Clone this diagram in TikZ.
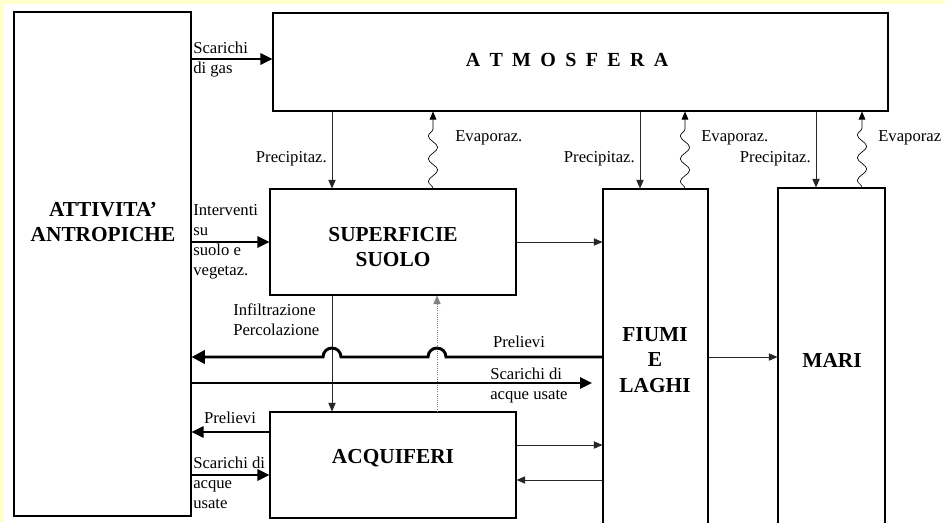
\documentclass[tikz,border=0pt]{standalone}
\usepackage{fontspec}
\setmainfont{Liberation Serif}
\usetikzlibrary{arrows.meta,fit,decorations.pathmorphing}
\definecolor{paleyellow}{RGB}{255,255,204}

\begin{document}
\begin{tikzpicture}[x=0.75pt, y=-0.75pt,
  box/.style={draw, line width=0.8pt, inner sep=0pt},
  title/.style={inner sep=0pt, align=center, font=\bfseries\fontsize{16}{19}\selectfont},
  lbl/.style={inner sep=0pt, align=left, font=\fontsize{12.5}{15}\selectfont},
  flow/.style={line width=0.6pt, black!85, -{Triangle[length=6.5pt,width=5.5pt]}},
  bigflow/.style={line width=1.4pt, -{Triangle[length=9pt,width=8.5pt]}},
  prelflow/.style={line width=2.2pt, -{Triangle[length=10pt,width=10pt]}},
  wavy/.style={line width=0.5pt, -{Triangle[length=6pt,width=5pt]}, decorate,
    decoration={snake, segment length=17pt, amplitude=3.5pt, post length=6pt}}]
  \fill[paleyellow] (0,0) rectangle (945,522);
  \fill[white] (4,4) rectangle (945,522);
  \clip (0,0) rectangle (945,522);

  % boxes
  \node[box, fit={(14,12) (191,516)}] (attiv) {};
  \node[box, fit={(273,13) (888,111)}] (atmo) {};
  \node[box, fit={(270,189) (516,295)}] (suolo) {};
  \node[box, fit={(603,189) (708,531)}] (fiumi) {};
  \node[box, fit={(778,188) (885,531)}] (mari) {};
  \node[box, fit={(270,412) (516,518)}] (acqui) {};
  \node[title] (attivtxt) at (103,222) {ATTIVITA'\\ANTROPICHE};
  \node[title, font=\bfseries\fontsize{15}{18}\selectfont] (atmotxt) at (567,60)
    {A\hspace{7pt}T\hspace{7pt}M\hspace{7pt}O\hspace{7pt}S\hspace{7pt}F\hspace{7pt}E\hspace{7pt}R\hspace{7pt}A};
  \node[title] (suolotxt) at (393,247) {SUPERFICIE\\SUOLO};
  \node[title] (fiumitxt) at (655,360) {FIUMI\\E\\LAGHI};
  \node[title] (maritxt) at (832,360) {MARI};
  \node[title] (acquitxt) at (393,458) {ACQUIFERI};

  % atmosfera
  \draw[bigflow] (attiv.east |- 0,59) -- (atmo.west |- 0,59);
  \node[lbl, anchor=west] (gaslbl) at (193,60) {Scarichi\\di gas};
  \draw[flow] (atmo.south -| 332,0) -- (suolo.north -| 332,0);
  \draw[flow] (atmo.south -| 640,0) -- (fiumi.north -| 640,0);
  \draw[flow] (atmo.south -| 816,0) -- (mari.north -| 816,0);
  \node[lbl, anchor=east] (prec1) at (327,159) {Precipitaz.};
  \node[lbl, anchor=east] (prec2) at (635,159) {Precipitaz.};
  \node[lbl, anchor=east] (prec3) at (811,159) {Precipitaz.};
  \draw[wavy] (suolo.north -| 433,0) -- (atmo.south -| 433,0);
  \draw[wavy] (fiumi.north -| 685,0) -- (atmo.south -| 685,0);
  \draw[wavy] (mari.north -| 862,0) -- (atmo.south -| 862,0);
  \node[lbl, anchor=west] (evap1) at (455,138) {Evaporaz.};
  \node[lbl, anchor=west] (evap2) at (701,138) {Evaporaz.};
  \node[lbl, anchor=west] (evap3) at (878,138) {Evaporaz};

  % suolo
  \draw[bigflow] (attiv.east |- suolo.west) -- (suolo.west);
  \node[lbl, anchor=west] (intlbl) at (193,242) {Interventi\\su\\suolo e\\vegetaz.};
  \draw[flow] (suolo.east) -- (fiumi.west |- suolo.east);
  \draw[flow] (suolo.south -| 332,0) -- (acqui.north -| 332,0);
  \draw[flow, gray, densely dotted] (acqui.north -| 437,0) -- (suolo.south -| 437,0);
  \node[lbl, anchor=west] (infilbl) at (233,320) {Infiltrazione\\Percolazione};

  % fiumi e laghi
  \draw[prelflow] (fiumi.west |- 0,357) -- (446,357)
    arc[start angle=0, end angle=180, radius=6.75pt] -- (341,357)
    arc[start angle=0, end angle=180, radius=6.75pt] -- (attiv.east |- 0,357);
  \node[lbl] (prel1) at (519,342) {Prelievi};
  \coordinate (scend) at (592,383);
  \draw[bigflow] (attiv.east |- scend) -- (scend);
  \node[lbl, anchor=west] (scar1) at (490,385) {Scarichi di\\acque usate};
  \draw[flow] (fiumi.east |- 0,357) -- (mari.west |- 0,357);
  \draw[flow] (acqui.east |- 0,445) -- (fiumi.west |- 0,445);
  \draw[flow] (fiumi.west |- 0,480) -- (acqui.east |- 0,480);

  % acquiferi
  \draw[bigflow] (acqui.west |- 0,432) -- (attiv.east |- 0,432);
  \node[lbl] (prel2) at (230,418) {Prelievi};
  \draw[bigflow] (attiv.east |- 0,475) -- (acqui.west |- 0,475);
  \node[lbl, anchor=west] (scar2) at (193,483) {Scarichi di\\acque\\usate};
\end{tikzpicture}
\end{document}
